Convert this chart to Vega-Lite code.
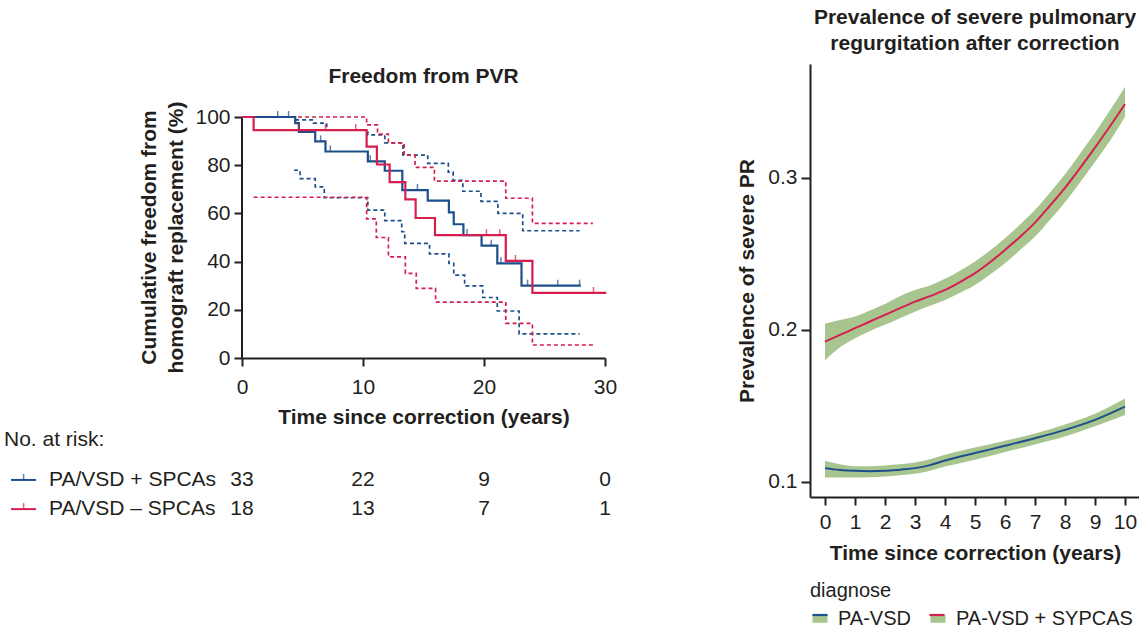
{
  "$schema": "https://vega.github.io/schema/vega-lite/v6.json",
  "background": "white",
  "padding": {"left": 3, "top": 7, "right": 0, "bottom": 0},
  "config": {
    "font": "Liberation Sans",
    "view": {"stroke": null},
    "axis": {
      "domainColor": "#231f20", "domainWidth": 2, "tickColor": "#231f20", "tickWidth": 2,
      "labelColor": "#231f20", "titleColor": "#231f20", "labelFont": "Liberation Sans", "titleFont": "Liberation Sans",
      "labelFontSize": 21, "titleFontSize": 21, "titleFontWeight": "bold", "grid": false,
      "labelFlush": false, "labelOverlap": false
    },
    "title": {"font": "Liberation Sans", "fontSize": 21, "fontWeight": "bold", "color": "#231f20"},
    "legend": {"labelFont": "Liberation Sans", "titleFont": "Liberation Sans", "labelColor": "#231f20", "titleColor": "#231f20"}
  },
  "datasets": {
    "km": [
      {"group": "PA/VSD + SPCAs", "curve": "est", "t": 0, "s": 100},
      {"group": "PA/VSD + SPCAs", "curve": "est", "t": 4.4, "s": 97.5},
      {"group": "PA/VSD + SPCAs", "curve": "est", "t": 4.7, "s": 93.8},
      {"group": "PA/VSD + SPCAs", "curve": "est", "t": 6.05, "s": 89.9},
      {"group": "PA/VSD + SPCAs", "curve": "est", "t": 6.9, "s": 85.7},
      {"group": "PA/VSD + SPCAs", "curve": "est", "t": 10.4, "s": 81.6},
      {"group": "PA/VSD + SPCAs", "curve": "est", "t": 11.8, "s": 77.7},
      {"group": "PA/VSD + SPCAs", "curve": "est", "t": 13.25, "s": 69.7},
      {"group": "PA/VSD + SPCAs", "curve": "est", "t": 15.35, "s": 65.3},
      {"group": "PA/VSD + SPCAs", "curve": "est", "t": 17.1, "s": 60.4},
      {"group": "PA/VSD + SPCAs", "curve": "est", "t": 17.5, "s": 55.5},
      {"group": "PA/VSD + SPCAs", "curve": "est", "t": 18.3, "s": 51},
      {"group": "PA/VSD + SPCAs", "curve": "est", "t": 19.8, "s": 46.6},
      {"group": "PA/VSD + SPCAs", "curve": "est", "t": 21.1, "s": 39.3},
      {"group": "PA/VSD + SPCAs", "curve": "est", "t": 23.1, "s": 30},
      {"group": "PA/VSD + SPCAs", "curve": "est", "t": 28, "s": 30},
      {"group": "PA/VSD + SPCAs", "curve": "hi", "t": 0, "s": 100},
      {"group": "PA/VSD + SPCAs", "curve": "hi", "t": 4.4, "s": 98.8},
      {"group": "PA/VSD + SPCAs", "curve": "hi", "t": 5.9, "s": 97.5},
      {"group": "PA/VSD + SPCAs", "curve": "hi", "t": 7.0, "s": 94.7},
      {"group": "PA/VSD + SPCAs", "curve": "hi", "t": 10.4, "s": 92.6},
      {"group": "PA/VSD + SPCAs", "curve": "hi", "t": 11.8, "s": 89.3},
      {"group": "PA/VSD + SPCAs", "curve": "hi", "t": 13.3, "s": 84.2},
      {"group": "PA/VSD + SPCAs", "curve": "hi", "t": 15.35, "s": 80.8},
      {"group": "PA/VSD + SPCAs", "curve": "hi", "t": 17.05, "s": 77.1},
      {"group": "PA/VSD + SPCAs", "curve": "hi", "t": 17.45, "s": 73.7},
      {"group": "PA/VSD + SPCAs", "curve": "hi", "t": 18.25, "s": 69.2},
      {"group": "PA/VSD + SPCAs", "curve": "hi", "t": 19.75, "s": 65},
      {"group": "PA/VSD + SPCAs", "curve": "hi", "t": 21.15, "s": 60},
      {"group": "PA/VSD + SPCAs", "curve": "hi", "t": 23.2, "s": 52.8},
      {"group": "PA/VSD + SPCAs", "curve": "hi", "t": 27.9, "s": 52.8},
      {"group": "PA/VSD + SPCAs", "curve": "lo", "t": 4.3, "s": 77.9},
      {"group": "PA/VSD + SPCAs", "curve": "lo", "t": 4.8, "s": 74.4},
      {"group": "PA/VSD + SPCAs", "curve": "lo", "t": 6.05, "s": 71},
      {"group": "PA/VSD + SPCAs", "curve": "lo", "t": 6.8, "s": 66.5},
      {"group": "PA/VSD + SPCAs", "curve": "lo", "t": 10.4, "s": 61.4},
      {"group": "PA/VSD + SPCAs", "curve": "lo", "t": 11.8, "s": 57},
      {"group": "PA/VSD + SPCAs", "curve": "lo", "t": 13.2, "s": 52.4},
      {"group": "PA/VSD + SPCAs", "curve": "lo", "t": 13.45, "s": 47.6},
      {"group": "PA/VSD + SPCAs", "curve": "lo", "t": 15.5, "s": 43.2},
      {"group": "PA/VSD + SPCAs", "curve": "lo", "t": 17.1, "s": 39.3},
      {"group": "PA/VSD + SPCAs", "curve": "lo", "t": 17.5, "s": 34.4},
      {"group": "PA/VSD + SPCAs", "curve": "lo", "t": 18.4, "s": 29.9},
      {"group": "PA/VSD + SPCAs", "curve": "lo", "t": 19.9, "s": 25.1},
      {"group": "PA/VSD + SPCAs", "curve": "lo", "t": 21.1, "s": 19.5},
      {"group": "PA/VSD + SPCAs", "curve": "lo", "t": 22.9, "s": 10},
      {"group": "PA/VSD + SPCAs", "curve": "lo", "t": 27.9, "s": 10},
      {"group": "PA/VSD – SPCAs", "curve": "est", "t": 0, "s": 100},
      {"group": "PA/VSD – SPCAs", "curve": "est", "t": 0.96, "s": 94.6},
      {"group": "PA/VSD – SPCAs", "curve": "est", "t": 10.3, "s": 87.7},
      {"group": "PA/VSD – SPCAs", "curve": "est", "t": 11.15, "s": 80.3},
      {"group": "PA/VSD – SPCAs", "curve": "est", "t": 12.2, "s": 73},
      {"group": "PA/VSD – SPCAs", "curve": "est", "t": 13.5, "s": 65.8},
      {"group": "PA/VSD – SPCAs", "curve": "est", "t": 14.35, "s": 58.1},
      {"group": "PA/VSD – SPCAs", "curve": "est", "t": 15.95, "s": 51},
      {"group": "PA/VSD – SPCAs", "curve": "est", "t": 21.8, "s": 40.3},
      {"group": "PA/VSD – SPCAs", "curve": "est", "t": 24.0, "s": 27},
      {"group": "PA/VSD – SPCAs", "curve": "est", "t": 30.1, "s": 27},
      {"group": "PA/VSD – SPCAs", "curve": "hi", "t": 0, "s": 100},
      {"group": "PA/VSD – SPCAs", "curve": "hi", "t": 10.3, "s": 96.7},
      {"group": "PA/VSD – SPCAs", "curve": "hi", "t": 11.2, "s": 92.9},
      {"group": "PA/VSD – SPCAs", "curve": "hi", "t": 12.1, "s": 89.3},
      {"group": "PA/VSD – SPCAs", "curve": "hi", "t": 13.4, "s": 84.2},
      {"group": "PA/VSD – SPCAs", "curve": "hi", "t": 14.3, "s": 79.1},
      {"group": "PA/VSD – SPCAs", "curve": "hi", "t": 15.9, "s": 73.4},
      {"group": "PA/VSD – SPCAs", "curve": "hi", "t": 21.8, "s": 66.3},
      {"group": "PA/VSD – SPCAs", "curve": "hi", "t": 24.0, "s": 55.9},
      {"group": "PA/VSD – SPCAs", "curve": "hi", "t": 29.0, "s": 55.9},
      {"group": "PA/VSD – SPCAs", "curve": "lo", "t": 0.96, "s": 66.7},
      {"group": "PA/VSD – SPCAs", "curve": "lo", "t": 10.3, "s": 57.7},
      {"group": "PA/VSD – SPCAs", "curve": "lo", "t": 11.1, "s": 50},
      {"group": "PA/VSD – SPCAs", "curve": "lo", "t": 12.1, "s": 42},
      {"group": "PA/VSD – SPCAs", "curve": "lo", "t": 13.5, "s": 35.1},
      {"group": "PA/VSD – SPCAs", "curve": "lo", "t": 14.4, "s": 28.9},
      {"group": "PA/VSD – SPCAs", "curve": "lo", "t": 16.0, "s": 23.2},
      {"group": "PA/VSD – SPCAs", "curve": "lo", "t": 21.8, "s": 14.4},
      {"group": "PA/VSD – SPCAs", "curve": "lo", "t": 24.0, "s": 5.4},
      {"group": "PA/VSD – SPCAs", "curve": "lo", "t": 29.1, "s": 5.4}
    ],
    "censor": [
      {"group": "PA/VSD + SPCAs", "t": 2.95, "s": 100},
      {"group": "PA/VSD + SPCAs", "t": 3.85, "s": 100},
      {"group": "PA/VSD + SPCAs", "t": 6.5, "s": 89.9},
      {"group": "PA/VSD + SPCAs", "t": 7.3, "s": 85.7},
      {"group": "PA/VSD + SPCAs", "t": 10.6, "s": 81.6},
      {"group": "PA/VSD + SPCAs", "t": 14.5, "s": 69.7},
      {"group": "PA/VSD + SPCAs", "t": 18.6, "s": 51},
      {"group": "PA/VSD + SPCAs", "t": 20.6, "s": 46.6},
      {"group": "PA/VSD + SPCAs", "t": 21.4, "s": 39.3},
      {"group": "PA/VSD + SPCAs", "t": 23.6, "s": 30},
      {"group": "PA/VSD + SPCAs", "t": 26.1, "s": 30},
      {"group": "PA/VSD + SPCAs", "t": 27.9, "s": 30},
      {"group": "PA/VSD – SPCAs", "t": 4.7, "s": 94.6},
      {"group": "PA/VSD – SPCAs", "t": 6.9, "s": 94.6},
      {"group": "PA/VSD – SPCAs", "t": 9.4, "s": 94.6},
      {"group": "PA/VSD – SPCAs", "t": 20.2, "s": 51},
      {"group": "PA/VSD – SPCAs", "t": 21.3, "s": 51},
      {"group": "PA/VSD – SPCAs", "t": 22.6, "s": 40.3},
      {"group": "PA/VSD – SPCAs", "t": 29.05, "s": 27}
    ],
    "risk": [
      {"group": "PA/VSD + SPCAs", "t": 0, "n": 33},
      {"group": "PA/VSD + SPCAs", "t": 10, "n": 22},
      {"group": "PA/VSD + SPCAs", "t": 20, "n": 9},
      {"group": "PA/VSD + SPCAs", "t": 30, "n": 0},
      {"group": "PA/VSD – SPCAs", "t": 0, "n": 18},
      {"group": "PA/VSD – SPCAs", "t": 10, "n": 13},
      {"group": "PA/VSD – SPCAs", "t": 20, "n": 7},
      {"group": "PA/VSD – SPCAs", "t": 30, "n": 1}
    ],
    "groups": [
      {"group": "PA/VSD + SPCAs"},
      {"group": "PA/VSD – SPCAs"}
    ],
    "header": [{"label": "No. at risk:"}],
    "pr": [
      {"diagnose": "PA-VSD", "t": 0, "fit": 0.109, "lo": 0.1028, "hi": 0.1138},
      {"diagnose": "PA-VSD", "t": 0.5, "fit": 0.1078, "lo": 0.1028, "hi": 0.1115},
      {"diagnose": "PA-VSD", "t": 1, "fit": 0.1072, "lo": 0.1028, "hi": 0.1102},
      {"diagnose": "PA-VSD", "t": 1.5, "fit": 0.107, "lo": 0.103, "hi": 0.1102},
      {"diagnose": "PA-VSD", "t": 2, "fit": 0.1072, "lo": 0.1035, "hi": 0.1108},
      {"diagnose": "PA-VSD", "t": 2.5, "fit": 0.108, "lo": 0.1043, "hi": 0.1115},
      {"diagnose": "PA-VSD", "t": 3, "fit": 0.109, "lo": 0.1053, "hi": 0.1127},
      {"diagnose": "PA-VSD", "t": 3.5, "fit": 0.111, "lo": 0.1073, "hi": 0.1148},
      {"diagnose": "PA-VSD", "t": 4, "fit": 0.114, "lo": 0.110, "hi": 0.1178},
      {"diagnose": "PA-VSD", "t": 5, "fit": 0.1189, "lo": 0.1146, "hi": 0.1225},
      {"diagnose": "PA-VSD", "t": 6, "fit": 0.1237, "lo": 0.1197, "hi": 0.127},
      {"diagnose": "PA-VSD", "t": 7, "fit": 0.1287, "lo": 0.1246, "hi": 0.1318},
      {"diagnose": "PA-VSD", "t": 8, "fit": 0.1342, "lo": 0.1298, "hi": 0.1378},
      {"diagnose": "PA-VSD", "t": 9, "fit": 0.1408, "lo": 0.1365, "hi": 0.1448},
      {"diagnose": "PA-VSD", "t": 10, "fit": 0.1495, "lo": 0.144, "hi": 0.1548},
      {"diagnose": "PA-VSD + SYPCAS", "t": 0, "fit": 0.1923, "lo": 0.180, "hi": 0.204},
      {"diagnose": "PA-VSD + SYPCAS", "t": 0.5, "fit": 0.1967, "lo": 0.1885, "hi": 0.2065},
      {"diagnose": "PA-VSD + SYPCAS", "t": 1, "fit": 0.2011, "lo": 0.1945, "hi": 0.2088},
      {"diagnose": "PA-VSD + SYPCAS", "t": 1.5, "fit": 0.2055, "lo": 0.1992, "hi": 0.2128},
      {"diagnose": "PA-VSD + SYPCAS", "t": 2, "fit": 0.2099, "lo": 0.2033, "hi": 0.2171},
      {"diagnose": "PA-VSD + SYPCAS", "t": 2.5, "fit": 0.2143, "lo": 0.2077, "hi": 0.2222},
      {"diagnose": "PA-VSD + SYPCAS", "t": 3, "fit": 0.2186, "lo": 0.212, "hi": 0.2262},
      {"diagnose": "PA-VSD + SYPCAS", "t": 3.5, "fit": 0.2222, "lo": 0.2158, "hi": 0.2292},
      {"diagnose": "PA-VSD + SYPCAS", "t": 4, "fit": 0.2263, "lo": 0.2197, "hi": 0.2336},
      {"diagnose": "PA-VSD + SYPCAS", "t": 4.5, "fit": 0.2315, "lo": 0.2245, "hi": 0.239},
      {"diagnose": "PA-VSD + SYPCAS", "t": 5, "fit": 0.2373, "lo": 0.2296, "hi": 0.245},
      {"diagnose": "PA-VSD + SYPCAS", "t": 5.5, "fit": 0.2445, "lo": 0.2365, "hi": 0.2522},
      {"diagnose": "PA-VSD + SYPCAS", "t": 6, "fit": 0.2526, "lo": 0.2439, "hi": 0.2603},
      {"diagnose": "PA-VSD + SYPCAS", "t": 6.5, "fit": 0.2612, "lo": 0.2525, "hi": 0.2693},
      {"diagnose": "PA-VSD + SYPCAS", "t": 7, "fit": 0.2706, "lo": 0.2614, "hi": 0.279},
      {"diagnose": "PA-VSD + SYPCAS", "t": 7.5, "fit": 0.2818, "lo": 0.2725, "hi": 0.2905},
      {"diagnose": "PA-VSD + SYPCAS", "t": 8, "fit": 0.2935, "lo": 0.284, "hi": 0.3025},
      {"diagnose": "PA-VSD + SYPCAS", "t": 8.5, "fit": 0.3065, "lo": 0.297, "hi": 0.316},
      {"diagnose": "PA-VSD + SYPCAS", "t": 9, "fit": 0.320, "lo": 0.3105, "hi": 0.3298},
      {"diagnose": "PA-VSD + SYPCAS", "t": 9.5, "fit": 0.334, "lo": 0.3245, "hi": 0.3445},
      {"diagnose": "PA-VSD + SYPCAS", "t": 10, "fit": 0.3487, "lo": 0.3403, "hi": 0.360}
    ]
  },
  "spacing": 119,
  "resolve": {"legend": {"fill": "independent", "stroke": "independent", "color": "independent"}},
  "hconcat": [
    {
      "width": 363,
      "height": 294,
      "title": {"text": "Freedom from PVR", "offset": -23},
      "layer": [
        {
          "data": {"name": "km"},
          "transform": [{"filter": "datum.curve != 'est'"}],
          "mark": {"type": "line", "interpolate": "step-after", "strokeDash": [4, 3], "strokeWidth": 1.7},
          "encoding": {
            "x": {"field": "t", "type": "quantitative", "scale": {"domain": [0, 30], "nice": false},
                  "axis": {"values": [0, 10, 20, 30], "title": "Time since correction (years)", "tickSize": 8, "labelPadding": 10, "titlePadding": 9, "labelOverlap": false, "labelFlush": false}},
            "y": {"field": "s", "type": "quantitative", "scale": {"domain": [0, 122], "nice": false},
                  "axis": {"values": [0, 20, 40, 60, 80, 100], "domain": false, "title": ["Cumulative freedom from", "homograft replacement (%)"], "titleLineHeight": 27, "titleY": 173, "tickSize": 8, "labelPadding": 4, "titlePadding": 8, "labelOverlap": false}},
            "color": {"field": "group", "type": "nominal", "scale": {"domain": ["PA/VSD + SPCAs", "PA/VSD – SPCAs"], "range": ["#1d4f8a", "#d61f4e"]}, "legend": null},
            "detail": {"field": "curve"}
          }
        },
        {
          "data": {"values": [{}]},
          "mark": {"type": "rule", "strokeWidth": 2, "color": "#231f20"},
          "encoding": {
            "x": {"datum": 0, "type": "quantitative"},
            "y": {"datum": 0, "type": "quantitative"},
            "y2": {"datum": 100}
          }
        },
        {
          "data": {"name": "km"},
          "transform": [{"filter": "datum.curve == 'est'"}],
          "mark": {"type": "line", "interpolate": "step-after", "strokeWidth": 2.2},
          "encoding": {
            "x": {"field": "t", "type": "quantitative"},
            "y": {"field": "s", "type": "quantitative"},
            "color": {"field": "group", "type": "nominal", "legend": null}
          }
        },
        {
          "data": {"name": "censor"},
          "mark": {"type": "tick", "orient": "vertical", "size": 6, "thickness": 1.5, "yOffset": -3},
          "encoding": {
            "x": {"field": "t", "type": "quantitative"},
            "y": {"field": "s", "type": "quantitative"},
            "color": {"field": "group", "type": "nominal", "legend": null}
          }
        },
        {
          "data": {"name": "header"},
          "mark": {"type": "text", "align": "left", "baseline": "middle", "fontSize": 21, "color": "#231f20"},
          "encoding": {
            "x": {"datum": -19.67, "type": "quantitative"},
            "y": {"datum": -34, "type": "quantitative"},
            "text": {"field": "label"}
          }
        },
        {
          "encoding": {
            "y": {"datum": -50.6, "type": "quantitative"}
          },
          "layer": [
            {
              "data": {"name": "groups"},
              "transform": [{"filter": "datum.group == 'PA/VSD + SPCAs'"}],
              "mark": {"type": "rule", "strokeWidth": 2},
              "encoding": {
                "x": {"datum": -19.09, "type": "quantitative"},
                "x2": {"datum": -17.02},
                "color": {"field": "group", "type": "nominal", "legend": null}
              }
            },
            {
              "data": {"name": "groups"},
              "transform": [{"filter": "datum.group == 'PA/VSD + SPCAs'"}],
              "mark": {"type": "tick", "orient": "vertical", "size": 6, "thickness": 1.5, "yOffset": -3},
              "encoding": {
                "x": {"datum": -18.05, "type": "quantitative"},
                "color": {"field": "group", "type": "nominal", "legend": null}
              }
            },
            {
              "data": {"name": "groups"},
              "transform": [{"filter": "datum.group == 'PA/VSD + SPCAs'"}],
              "mark": {"type": "text", "align": "left", "baseline": "middle", "fontSize": 21, "color": "#231f20"},
              "encoding": {
                "x": {"datum": -15.95, "type": "quantitative"},
                "text": {"field": "group"}
              }
            },
            {
              "data": {"name": "risk"},
              "transform": [{"filter": "datum.group == 'PA/VSD + SPCAs'"}],
              "mark": {"type": "text", "align": "center", "baseline": "middle", "fontSize": 21, "color": "#231f20"},
              "encoding": {
                "x": {"field": "t", "type": "quantitative"},
                "text": {"field": "n"}
              }
            }
          ]
        },
        {
          "encoding": {
            "y": {"datum": -62.7, "type": "quantitative"}
          },
          "layer": [
            {
              "data": {"name": "groups"},
              "transform": [{"filter": "datum.group == 'PA/VSD – SPCAs'"}],
              "mark": {"type": "rule", "strokeWidth": 2},
              "encoding": {
                "x": {"datum": -19.09, "type": "quantitative"},
                "x2": {"datum": -17.02},
                "color": {"field": "group", "type": "nominal", "legend": null}
              }
            },
            {
              "data": {"name": "groups"},
              "transform": [{"filter": "datum.group == 'PA/VSD – SPCAs'"}],
              "mark": {"type": "tick", "orient": "vertical", "size": 6, "thickness": 1.5, "yOffset": -3},
              "encoding": {
                "x": {"datum": -18.05, "type": "quantitative"},
                "color": {"field": "group", "type": "nominal", "legend": null}
              }
            },
            {
              "data": {"name": "groups"},
              "transform": [{"filter": "datum.group == 'PA/VSD – SPCAs'"}],
              "mark": {"type": "text", "align": "left", "baseline": "middle", "fontSize": 21, "color": "#231f20"},
              "encoding": {
                "x": {"datum": -15.95, "type": "quantitative"},
                "text": {"field": "group"}
              }
            },
            {
              "data": {"name": "risk"},
              "transform": [{"filter": "datum.group == 'PA/VSD – SPCAs'"}],
              "mark": {"type": "text", "align": "center", "baseline": "middle", "fontSize": 21, "color": "#231f20"},
              "encoding": {
                "x": {"field": "t", "type": "quantitative"},
                "text": {"field": "n"}
              }
            }
          ]
        }
      ]
    },
    {
      "width": 330,
      "height": 433,
      "title": {"text": ["Prevalence of severe pulmonary", "regurgitation after correction"], "lineHeight": 26, "offset": 10},
      "data": {"name": "pr"},
      "layer": [
        {
          "mark": {"type": "area", "interpolate": "monotone", "opacity": 1},
          "encoding": {
            "x": {"field": "t", "type": "quantitative", "scale": {"domain": [-0.5, 10.5], "nice": false, "zero": false},
                  "axis": {"values": [0, 1, 2, 3, 4, 5, 6, 7, 8, 9, 10], "tickCount": 11, "tickMinStep": 1, "labelSeparation": 0, "title": "Time since correction (years)", "tickSize": 8, "labelPadding": 6, "titlePadding": 10, "labelOverlap": false, "labelFlush": false, "labelBound": false}},
            "y": {"field": "lo", "type": "quantitative", "scale": {"domain": [0.09, 0.375], "nice": false, "zero": false},
                  "axis": {"values": [0.1, 0.2, 0.3], "format": ".1f", "title": "Prevalence of severe PR", "tickSize": 9, "labelPadding": 4, "titlePadding": 10, "labelOverlap": false}},
            "y2": {"field": "hi"},
            "fill": {"field": "diagnose", "type": "nominal",
                     "scale": {"domain": ["PA-VSD", "PA-VSD + SYPCAS"], "range": ["#a8c590", "#a8c590"]},
                     "legend": {"orient": "bottom", "direction": "horizontal", "title": "diagnose", "titleFontWeight": "normal", "titleFontSize": 20, "labelFontSize": 20, "labelLimit": 400,
                                "symbolType": "M-1,-0.5H1V0.5H-1Z", "symbolSize": 225, "symbolStrokeWidth": 0, "symbolOpacity": 1, "columnPadding": 17, "labelOffset": 8, "titlePadding": 8}}
          }
        },
        {
          "mark": {"type": "line", "interpolate": "monotone", "strokeWidth": 2},
          "encoding": {
            "x": {"field": "t", "type": "quantitative",
                  "axis": {"values": [0, 1, 2, 3, 4, 5, 6, 7, 8, 9, 10], "tickCount": 11, "tickMinStep": 1, "labelSeparation": 0, "title": "Time since correction (years)", "tickSize": 8, "labelPadding": 6, "titlePadding": 10, "labelOverlap": false, "labelFlush": false, "labelBound": false}},
            "y": {"field": "fit", "type": "quantitative"},
            "stroke": {"field": "diagnose", "type": "nominal",
                       "scale": {"domain": ["PA-VSD", "PA-VSD + SYPCAS"], "range": ["#1d4f8a", "#d61f4e"]},
                       "legend": {"orient": "none", "legendX": 0, "legendY": 541, "direction": "horizontal", "title": null, "labelExpr": "''", "labelFontSize": 20,
                                  "symbolType": "stroke", "symbolSize": 225, "symbolStrokeWidth": 2.2, "columnPadding": 88, "labelOffset": 7}}
          }
        }
      ]
    }
  ]
}
